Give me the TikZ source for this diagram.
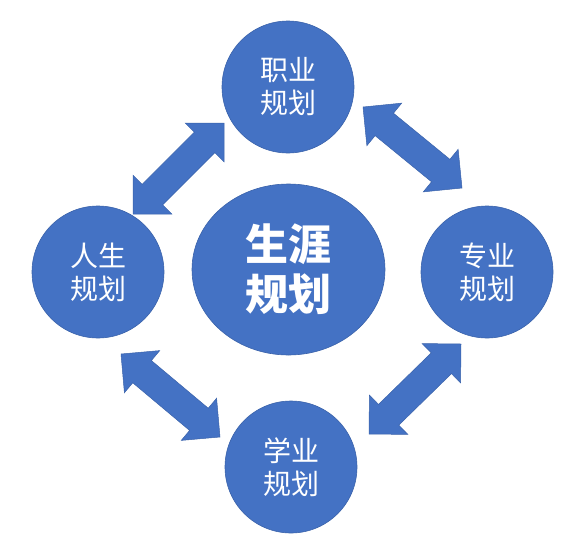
\documentclass[tikz,border=0pt]{standalone}
\usepackage{fontspec}
\setmainfont{Noto Sans CJK SC}
\usetikzlibrary{calc,shapes.geometric}
\definecolor{cblue}{HTML}{4472C4}
\definecolor{cedge}{HTML}{3A62AA}
\newcommand\dblarrow[2]{%
 \filldraw[blockarrow] (#1)
 -- ($(#1)!27.5pt!(#2)!27.5pt!90:(#2)$)
 -- ($(#1)!27.5pt!(#2)!14.5pt!90:(#2)$)
 -- ($(#2)!27.5pt!(#1)!14.5pt!-90:(#1)$)
 -- ($(#2)!27.5pt!(#1)!27.5pt!-90:(#1)$)
 -- (#2)
 -- ($(#2)!27.5pt!(#1)!27.5pt!90:(#1)$)
 -- ($(#2)!27.5pt!(#1)!14.5pt!90:(#1)$)
 -- ($(#1)!27.5pt!(#2)!14.5pt!-90:(#2)$)
 -- ($(#1)!27.5pt!(#2)!27.5pt!-90:(#2)$)
 -- cycle;}
\tikzset{
 blockarrow/.style={fill=cblue, draw=cedge, line width=0.5pt, line join=miter},
 planet/.style={circle, fill=cblue, draw=cedge, line width=0.6pt, minimum size=132pt,
   inner sep=0pt, align=center, text=white, font=\fontsize{28}{33}\selectfont},
 core/.style={ellipse, fill=cblue, draw=cedge, line width=0.6pt, minimum width=193pt,
   minimum height=171pt, inner sep=0pt, align=center, text=white,
   font=\fontsize{43}{50}\selectfont\bfseries}
}
\begin{document}
\begin{tikzpicture}[x=1pt,y=-1pt]
\useasboundingbox (0,0) rectangle (570,536);
% arrow end points
\coordinate (a1s) at (133,214); \coordinate (a1e) at (224,123);
\coordinate (a2s) at (363,107); \coordinate (a2e) at (462,188);
\coordinate (a3s) at (369,434); \coordinate (a3e) at (461,344);
\coordinate (a4s) at (121,354); \coordinate (a4e) at (220,437);
\dblarrow{a1s}{a1e}
\dblarrow{a2s}{a2e}
\dblarrow{a3s}{a3e}
\dblarrow{a4s}{a4e}
\node[planet] (zhiye) at (288,87) {职业\\规划};
\node[planet] (rensheng) at (98,272) {人生\\规划};
\node[planet] (zhuanye) at (487,272) {专业\\规划};
\node[planet] (xueye) at (291,467) {学业\\规划};
\node[core] (shengya) at (288.5,269.5) {生涯\\规划};
\end{tikzpicture}
\end{document}
